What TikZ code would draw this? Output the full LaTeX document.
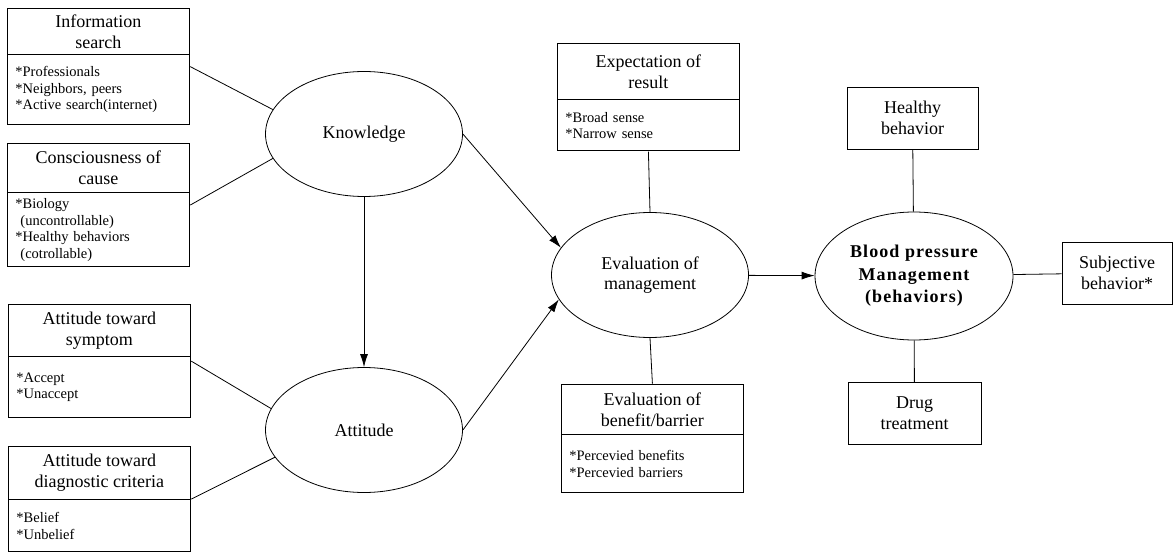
\documentclass[tikz,border=0pt]{standalone}
\usepackage{fontspec}
\setmainfont{Liberation Serif}
\newfontfamily\bpfont[LetterSpace=6]{Liberation Serif}
\usepackage{tikz}
\usetikzlibrary{positioning,fit,arrows.meta,shapes.geometric}
\tikzset{
  head box/.style={
    draw,
    anchor=north west,
    minimum width=182pt,
    minimum height={#1pt},
    align=center,
    font=\fontsize{18}{21}\selectfont,
  },
  list box/.style={
    draw,
    minimum height={#1pt},
    text width=166pt,
    inner xsep=8pt,
    align=left,
    font=\fontsize{14.5}{16.5}\selectfont,
  },
  whole box/.style={
    inner sep=0pt,
  },
  plain box/.style={
    draw,
    minimum width={#1pt},
    minimum height=62pt,
    align=center,
    font=\fontsize{18}{21}\selectfont,
  },
  concept/.style={
    draw,
    ellipse,
    minimum width=197pt,
    minimum height=125pt,
    align=center,
    font=\fontsize{18}{20}\selectfont,
  },
  link/.style={
    line width=0.8pt,
  },
  flow/.style={
    line width=0.8pt,
    -{Latex[length=13pt,width=8pt]},
  }
}

\begin{document}
\begin{tikzpicture}[x=1pt,y=-1pt,node distance=-0.4pt,line width=0.8pt]
    \useasboundingbox (0,0) rectangle (1174,553);

    \node [head box=46] (info) at (7,8) {Information\\search};
    \node [list box=70, below=of info] (info-list) {*Professionals\\{}*Neighbors, peers\\{}*Active search(internet)};
    \node [whole box, fit=(info)(info-list)] (info-box) {};

    \node [head box=49] (cause) at (7,143) {Consciousness of\\cause};
    \node [list box=74, below=of cause] (cause-list) {*Biology\\\hspace*{0.35em}(uncontrollable)\\{}*Healthy behaviors\\\hspace*{0.35em}(cotrollable)};
    \node [whole box, fit=(cause)(cause-list)] (cause-box) {};

    \node [head box=52] (symp) at (8,304) {Attitude toward\\symptom};
    \node [list box=61, below=of symp] (symp-list) {*Accept\\{}*Unaccept};
    \node [whole box, fit=(symp)(symp-list)] (symp-box) {};

    \node [head box=53] (diag) at (8,446) {Attitude toward\\diagnostic criteria};
    \node [list box=52, below=of diag] (diag-list) {*Belief\\{}*Unbelief};
    \node [whole box, fit=(diag)(diag-list)] (diag-box) {};

    \node [head box=56] (expect) at (557,43) {Expectation of\\result};
    \node [list box=51, below=of expect] (expect-list) {*Broad sense\\{}*Narrow sense};
    \node [whole box, fit=(expect)(expect-list)] (expect-box) {};

    \node [head box=50] (benef) at (561,384) {Evaluation of\\benefit/barrier};
    \node [list box=58, below=of benef] (benef-list) {*Percevied benefits\\{}*Percevied barriers};
    \node [whole box, fit=(benef)(benef-list)] (benef-box) {};

    \node [concept] (know) at (364,134) {Knowledge};
    \node [concept] (att) at (364,430) {Attitude};
    \node [concept] (eval) at (650,275) {Evaluation of\\management};
    \node [concept, minimum width=198pt, minimum height=128pt,
           font=\bpfont\bfseries\fontsize{18}{22.5}\selectfont] (bp) at (914,276)
          {Blood pressure\\Management\\(behaviors)};

    \node [plain box=131] (healthy) at (912.5,118) {Healthy\\behavior};
    \node [plain box=133] (drug) at (914.5,413.5) {Drug\\treatment};
    \node [plain box=110] (subj) at (1117,273) {Subjective\\behavior*};

    \draw [link] (info-box.east) -- (know.165);
    \draw [link] (cause-box.east) -- (know.195);
    \draw [link] (symp-box.east) -- (att.167);
    \draw [link] (diag-box.east) -- (att.197);
    \draw [flow] (know) -- (att);
    \draw [flow] (know.east) -- (eval.163);
    \draw [flow] (att.east) -- (eval.195);
    \draw [link] (expect-box.south) -- (eval.north);
    \draw [link] (eval.south) -- (benef-box.north);
    \draw [flow] (eval) -- (bp);
    \draw [link] (healthy) -- (bp);
    \draw [link] (bp) -- (drug);
    \draw [link] (bp) -- (subj);
\end{tikzpicture}
\end{document}
